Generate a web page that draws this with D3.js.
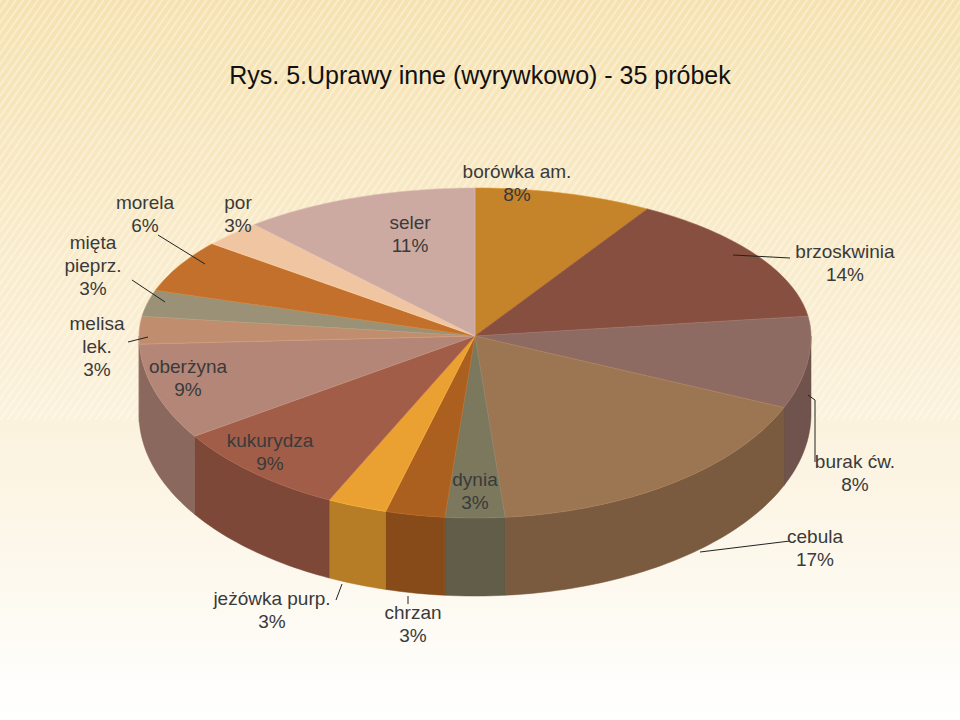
<!DOCTYPE html>
<meta charset="utf-8">
<style>
body { margin: 0; overflow: hidden; }
text { font-family: "Liberation Sans", Arial, sans-serif; }
</style>
<svg width="960" height="720"></svg>
<script src="https://d3js.org/d3.v7.min.js"></script>
<script>

var categories = ["borówka am.", "brzoskwinia", "burak ćw.", "cebula", "dynia", "chrzan", "jeżówka purp.",
                  "kukurydza", "oberżyna", "melisa lek.", "mięta pieprz.", "morela", "por", "seler"];
var samples = [3, 5, 3, 6, 1, 1, 1, 3, 3, 1, 1, 2, 1, 4];
var percents = ["8%", "14%", "8%", "17%", "3%", "3%", "3%", "9%", "9%", "3%", "3%", "6%", "3%", "11%"];
var colors = ["#C5832A", "#874F3F", "#8E6B62", "#9C7552", "#7C785E", "#AC601F", "#EBA131",
              "#A15D47", "#B38677", "#C08E6E", "#9A9176", "#C2702B", "#F0C6A2", "#CCAAA2"];

// label placement: [x, y of first line, lines, leader line or null]
var labelPos = [
  [517, 178, ["borówka am."], null],
  [845, 258, ["brzoskwinia"], [[733, 255], [790, 258]]],
  [855, 468, ["burak ćw."], [[808, 395], [815, 400], [815, 462]]],
  [815, 543, ["cebula"], [[700, 552], [790, 541]]],
  [475, 486, ["dynia"], null],
  [413, 619, ["chrzan"], [[408, 596], [408, 604]]],
  [272, 605, ["jeżówka purp."], [[342, 584], [336, 600]]],
  [270, 447, ["kukurydza"], null],
  [188, 373, ["oberżyna"], null],
  [97, 330, ["melisa", "lek."], [[128, 342], [148, 337]]],
  [93, 249, ["mięta", "pieprz."], [[132, 280], [165, 302]]],
  [145, 209, ["morela"], [[158, 235], [205, 264]]],
  [238, 209, ["por"], null],
  [410, 229, ["seler"], null]
];

var svg = d3.select("svg");
var cx = 475, cy = 336, rx = 336, ryTop = 148, ryBot = 182, depth = 78;

// background
var defs = svg.append("defs");
var bg = defs.append("linearGradient").attr("id", "bg").attr("x1", 0).attr("y1", 0).attr("x2", 0).attr("y2", 1);
bg.append("stop").attr("offset", 0).attr("stop-color", "#F6E2B0");
bg.append("stop").attr("offset", 0.55).attr("stop-color", "#FBF1DA");
bg.append("stop").attr("offset", 1).attr("stop-color", "#FFFFFF");
var pat = defs.append("pattern").attr("id", "stripes").attr("width", 6).attr("height", 6)
    .attr("patternUnits", "userSpaceOnUse").attr("patternTransform", "rotate(35)");
pat.append("rect").attr("width", 2).attr("height", 6).attr("fill", "#ffffff").attr("opacity", 0.35);
svg.append("rect").attr("width", 960).attr("height", 720).attr("fill", "url(#bg)");
svg.append("rect").attr("width", 960).attr("height", 420).attr("fill", "url(#stripes)");

svg.append("text").attr("x", 480).attr("y", 84).attr("text-anchor", "middle")
  .attr("font-size", 25).attr("fill", "#111")
  .text("Rys. 5.Uprawy inne (wyrywkowo) - 35 próbek");

var arcs = d3.pie().sort(null).value(function(d) { return d; })(samples);

function pt(t, dy) {
  var c = Math.cos(t);
  return [cx + rx * Math.sin(t), cy - (c > 0 ? ryTop : ryBot) * c + (dy || 0)];
}
function arcPts(a0, a1, dy) {
  var n = Math.max(2, Math.ceil((a1 - a0) / 0.02)), p = [];
  for (var i = 0; i <= n; i++) p.push(pt(a0 + (a1 - a0) * i / n, dy));
  return p;
}
var line = d3.line();

// outer walls (front half only)
arcs.forEach(function(a, i) {
  var a0 = Math.max(a.startAngle, Math.PI / 2), a1 = Math.min(a.endAngle, 3 * Math.PI / 2);
  if (a1 <= a0) return;
  var p = arcPts(a0, a1, 0).concat(arcPts(a0, a1, depth).reverse());
  svg.append("path").attr("d", line(p) + "Z")
    .attr("fill", d3.color(colors[i]).darker(0.7)).attr("stroke", d3.color(colors[i]).darker(0.9)).attr("stroke-width", 0.5);
});

// top faces
arcs.forEach(function(a, i) {
  var p = [[cx, cy]].concat(arcPts(a.startAngle, a.endAngle, 0));
  svg.append("path").attr("d", line(p) + "Z")
    .attr("fill", colors[i]).attr("stroke", d3.color(colors[i]).brighter(0.3)).attr("stroke-width", 0.6);
});

// labels
labelPos.forEach(function(l, i) {
  if (l[3]) svg.append("path").attr("d", line(l[3])).attr("fill", "none").attr("stroke", "#222").attr("stroke-width", 1);
  var t = svg.append("text").attr("text-anchor", "middle").attr("font-size", 19).attr("fill", "#3a3a3a");
  l[2].concat([percents[i]]).forEach(function(s, k) {
    t.append("tspan").attr("x", l[0]).attr("y", l[1] + k * 23).text(s);
  });
});

</script>
